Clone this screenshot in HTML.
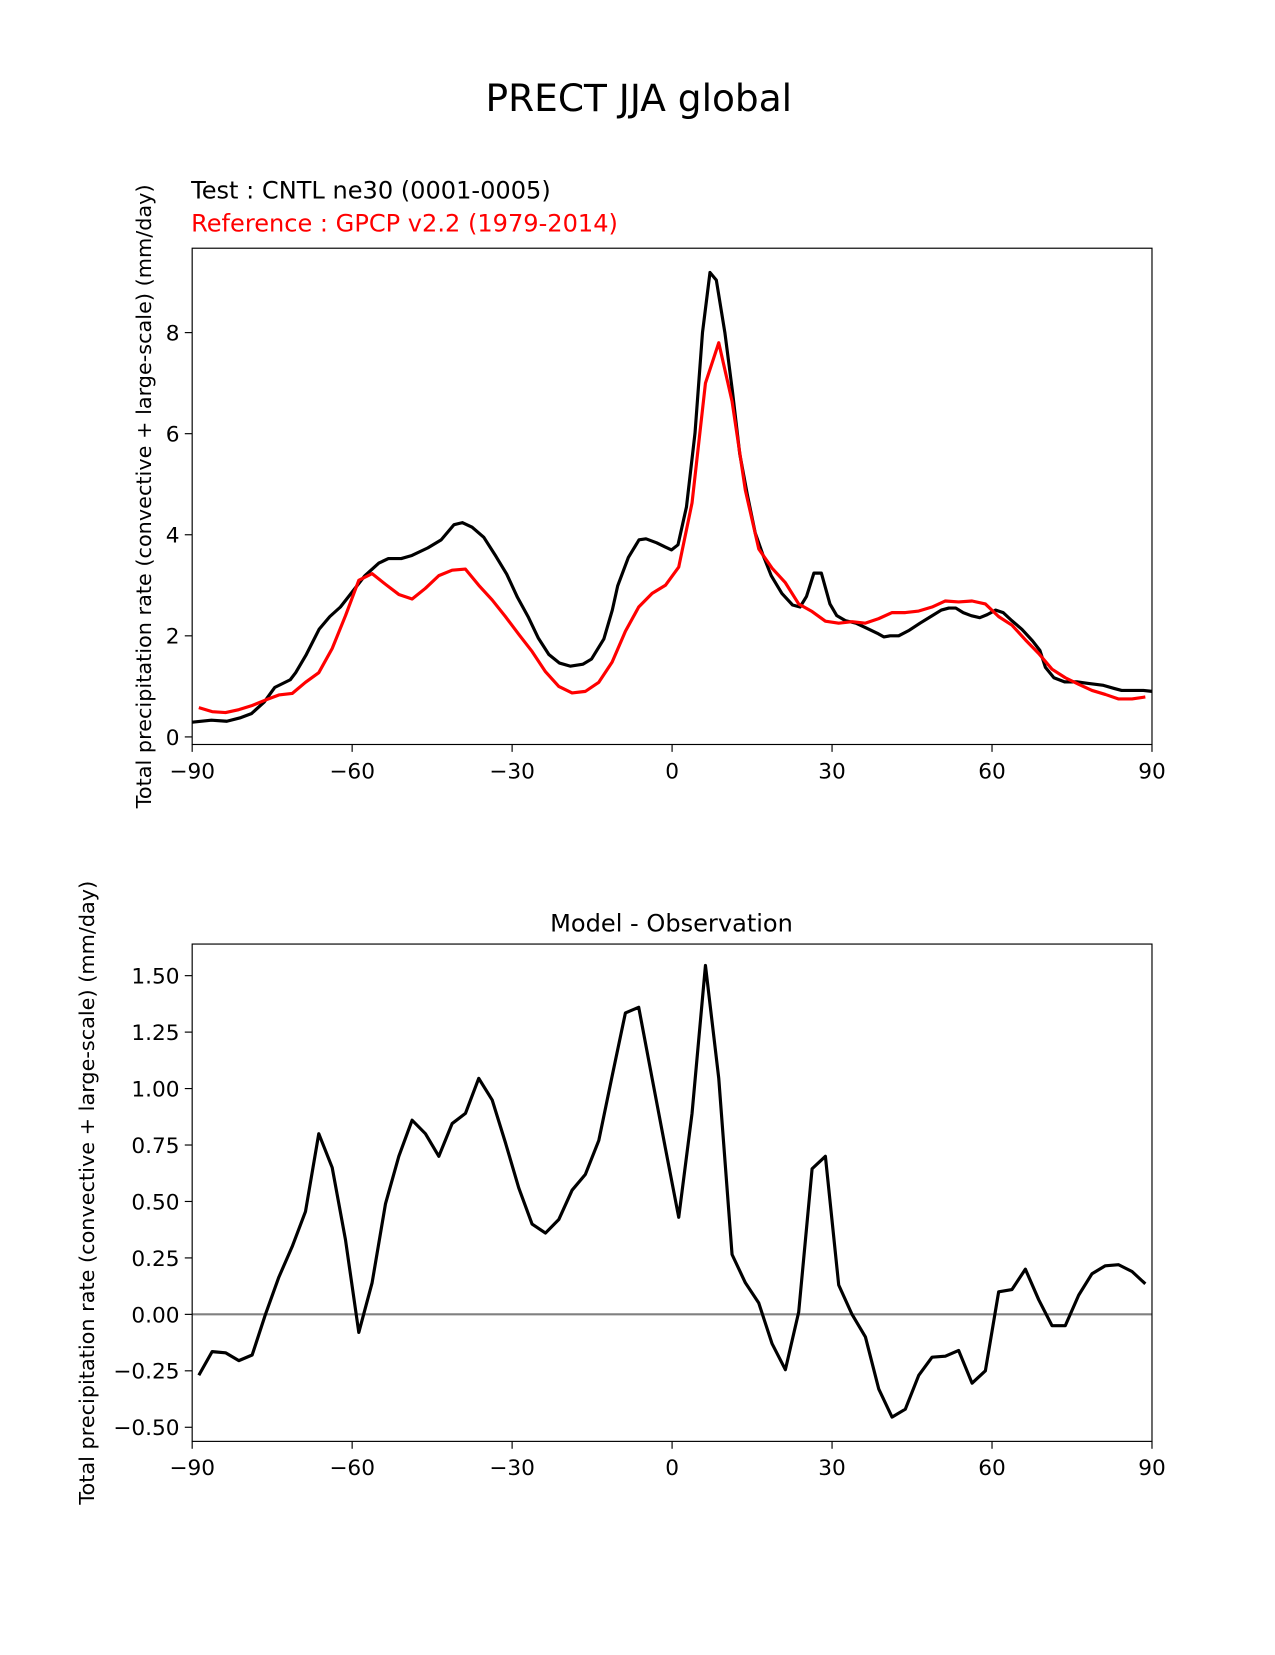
<!DOCTYPE html>
<html><head><meta charset="utf-8"><style>
body{margin:0;background:#fff}
svg text{font-family:"DejaVu Sans","Liberation Sans",sans-serif}
</style></head><body>
<svg id="fig" width="1275" height="1650" viewBox="0 0 1207.5 1562.5" xmlns="http://www.w3.org/2000/svg">
<rect width="1207.5" height="1562.5" fill="#fff"/>
<text x="605" y="105" font-size="35.5" text-anchor="middle">PRECT JJA global</text>
<text x="181" y="188" font-size="22.8">Test : CNTL ne30 (0001-0005)</text>
<text x="181" y="219" font-size="22.8" fill="#ff0000">Reference : GPCP v2.2 (1979-2014)</text>
<text x="636" y="882" font-size="22.8" text-anchor="middle">Model - Observation</text>
<g id="top"></g>
<g id="bot"></g>
</svg>
<script>
const xTicks=[-90,-60,-30,0,30,60,90];
const topYTicks=[0,2,4,6,8];
const botYTicks=[-0.5,-0.25,0,0.25,0.5,0.75,1.0,1.25,1.5];
const refLat=[];for(let i=0;i<72;i++)refLat.push(-88.75+2.5*i);
const refVals=[0.58,0.50,0.48,0.54,0.62,0.73,0.83,0.86,1.08,1.27,1.75,2.4,3.1,3.23,3.02,2.82,2.73,2.94,3.19,3.3,3.32,3.0,2.71,2.38,2.03,1.69,1.29,1.0,0.87,0.9,1.08,1.48,2.09,2.57,2.84,3.0,3.36,4.63,7.0,7.8,6.64,4.88,3.72,3.34,3.05,2.63,2.48,2.29,2.25,2.28,2.25,2.34,2.46,2.46,2.49,2.57,2.69,2.67,2.69,2.63,2.38,2.21,1.92,1.65,1.34,1.17,1.04,0.92,0.84,0.75,0.75,0.79];
const diffVals=[-0.27,-0.165,-0.17,-0.205,-0.18,0.0,0.165,0.30,0.455,0.80,0.65,0.33,-0.08,0.14,0.49,0.70,0.86,0.80,0.70,0.845,0.89,1.045,0.95,0.76,0.56,0.40,0.36,0.42,0.55,0.62,0.77,1.055,1.335,1.36,1.045,0.735,0.43,0.89,1.545,1.045,0.265,0.14,0.05,-0.13,-0.245,0.01,0.645,0.70,0.13,0.0,-0.10,-0.33,-0.455,-0.42,-0.27,-0.19,-0.185,-0.16,-0.305,-0.25,0.10,0.11,0.20,0.065,-0.05,-0.05,0.085,0.18,0.215,0.22,0.19,0.135];
const testLat=[-90,-86.4,-83.5,-80.9,-78.9,-76.5,-74.5,-71.6,-70.6,-68.6,-66.2,-64.2,-62.2,-60.2,-57.6,-55.0,-53.2,-50.8,-48.8,-45.8,-43.3,-40.9,-39.3,-37.5,-35.3,-33.0,-31.0,-29.0,-27.0,-25.1,-23.1,-21.1,-19.1,-16.7,-15.1,-12.8,-11.2,-10.2,-8.2,-6.2,-4.9,-2.9,-1.3,-0.1,1.1,2.7,4.3,5.7,7.1,8.3,9.9,11.3,12.7,14.1,15.6,17.0,18.6,20.6,22.6,24.0,25.2,26.6,28.0,29.6,30.9,32.5,34.5,36.5,38.5,39.7,40.9,42.5,44.5,46.5,48.5,50.5,51.9,53.2,54.6,56.1,57.7,59.1,60.7,62.1,63.7,65.6,67.6,69.0,70.0,71.6,73.6,75.9,77.9,80.9,82.9,84.3,86.8,88.4,90];
const testVals=[0.29,0.33,0.31,0.38,0.46,0.69,0.98,1.13,1.27,1.63,2.13,2.38,2.57,2.84,3.19,3.44,3.53,3.53,3.59,3.74,3.9,4.2,4.24,4.15,3.95,3.57,3.22,2.76,2.38,1.96,1.63,1.46,1.4,1.44,1.54,1.94,2.51,2.99,3.55,3.9,3.92,3.84,3.76,3.7,3.8,4.55,6.01,8.0,9.19,9.04,8.0,6.85,5.6,4.8,4.03,3.61,3.19,2.84,2.61,2.57,2.78,3.24,3.24,2.63,2.4,2.3,2.25,2.15,2.05,1.98,2.0,2.0,2.11,2.25,2.38,2.51,2.55,2.55,2.46,2.4,2.36,2.42,2.51,2.46,2.3,2.13,1.9,1.71,1.38,1.17,1.09,1.09,1.06,1.02,0.96,0.92,0.92,0.92,0.9];

const NS="http://www.w3.org/2000/svg";
function mk(p,t,a){const e=document.createElementNS(NS,t);for(const k in a)e.setAttribute(k,a[k]);p.appendChild(e);return e;}
function panel(g,L,R,T,B,ymin,ymax,yticks,yfmt,ylabelX,name){
  const sx=v=>L+(v+90)/180*(R-L);
  const sy=v=>B-(v-ymin)/(ymax-ymin)*(B-T);
  xTicks.forEach(t=>{
    const l=mk(g,'line',{x1:sx(t),x2:sx(t),y1:B,y2:B+7,stroke:'#000','stroke-width':1.1});
    
    
    const tx=mk(g,'text',{x:sx(t),y:B+32,'font-size':20.5,'text-anchor':'middle'});
    tx.textContent=(t<0?'\u2212'+(-t):String(t));
    
    
  });
  yticks.forEach(t=>{
    const l=mk(g,'line',{x1:L-7,x2:L,y1:sy(t),y2:sy(t),stroke:'#000','stroke-width':1.1});
    
    
    const tx=mk(g,'text',{x:L-12,y:sy(t)+7.5,'font-size':20.5,'text-anchor':'end'});
    tx.textContent=yfmt(t);
    
    
  });
  const yl=mk(g,'text',{x:ylabelX,y:(T+B)/2,'font-size':19.7,'text-anchor':'middle',transform:`rotate(-90 ${ylabelX} ${(T+B)/2})`});
  yl.textContent='Total precipitation rate (convective + large-scale) (mm/day)';
  
  
  return {sx,sy,frame:()=>{const f=mk(g,'rect',{x:L,y:T,width:R-L,height:B-T,fill:'none',stroke:'#000','stroke-width':1.1});
    
    }};
}
function line(g,lats,vals,sx,sy,color,w,name){
  const d=lats.map((x,i)=>(i?'L':'M')+sx(x).toFixed(1)+','+sy(vals[i]).toFixed(1)).join('');
  const p=mk(g,'path',{d:d,fill:'none',stroke:color,'stroke-width':w,'stroke-linejoin':'round'});
  
  
}
const gt=document.getElementById('top');
const tp=panel(gt,182,1091,235,705,-0.15,9.67,topYTicks,t=>String(t),143,'top');
line(gt,testLat,testVals,tp.sx,tp.sy,'#000',3,'test-line');
line(gt,refLat,refVals,tp.sx,tp.sy,'#ff0000',3,'reference-line');
tp.frame();
const gb=document.getElementById('bot');
const bp=panel(gb,182,1091,894,1365,-0.5625,1.64,botYTicks,t=>(t<0?'\u2212':'')+Math.abs(t).toFixed(2),89,'diff');
const z=mk(gb,'line',{x1:182,x2:1091,y1:bp.sy(0),y2:bp.sy(0),stroke:'#808080','stroke-width':2});


line(gb,refLat,diffVals,bp.sx,bp.sy,'#000',3,'diff-line');
bp.frame();
</script>
</body></html>
